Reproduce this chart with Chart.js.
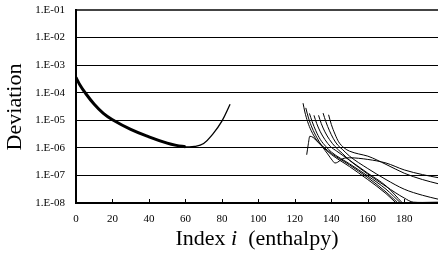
<!DOCTYPE html>
<html>
<head>
<meta charset="utf-8">
<script src="https://cdn.jsdelivr.net/npm/chart.js@4"></script>
<style>
  html, body { margin: 0; padding: 0; background: #fff; }
  #wrap { width: 438px; height: 254px; position: relative; }
</style>
</head>
<body>
<div id="wrap"><canvas id="chart-dev"></canvas></div>
<script>
'use strict';

/* ─── data (deviation stored as log10 exponent) ─── */
var xTicks = [0, 20, 40, 60, 80, 100, 120, 140, 160, 180];
var yTicks = [1e-8, 1e-7, 1e-6, 1e-5, 1e-4, 1e-3, 1e-2, 1e-1];

// left curve (several overlapping runs, thick part up to i=60)
var idxLeft = [0, 2, 5, 10, 15, 20, 30, 40, 50, 55, 60, 65, 70, 75, 80, 84.5];
var expLeft = [-3.45, -3.7, -4.0, -4.42, -4.75, -4.98, -5.33, -5.6, -5.83, -5.91, -5.96, -5.95, -5.84, -5.5, -5.03, -4.42];
var thickCount = 11;

// right group
var idxA = [124.5, 125.5, 127, 129, 132, 136, 140, 150, 160, 170, 176.5];
var expA = [-4.38, -4.7, -5.05, -5.38, -5.72, -5.98, -6.2, -6.62, -7.08, -7.6, -8.0];

var idxB = [126, 127.5, 129.5, 132, 135, 138, 140.5, 142, 143.5, 146, 150, 160, 170, 180, 190, 198.5];
var expB = [-4.55, -4.92, -5.28, -5.62, -5.95, -6.22, -6.45, -6.55, -6.52, -6.4, -6.36, -6.42, -6.55, -6.8, -6.97, -7.08];

var idxC = [128, 129.5, 131.5, 134, 137, 140, 150, 160, 170, 178];
var expC = [-4.75, -5.05, -5.38, -5.7, -5.95, -6.15, -6.58, -7.02, -7.5, -8.0];

var idxD = [130.5, 132, 134, 136.5, 139.5, 143, 150, 160, 170, 179];
var expD = [-4.82, -5.12, -5.42, -5.7, -5.95, -6.12, -6.45, -6.92, -7.38, -8.0];

var idxE = [133, 134.5, 136.5, 139, 142, 146, 150, 160, 170, 180, 185, 190, 198.5];
var expE = [-4.82, -5.12, -5.42, -5.7, -5.95, -6.2, -6.45, -6.95, -7.4, -7.82, -7.97, -7.98, -7.97];

var idxF = [135.5, 137, 139, 141, 143.5, 146, 150, 160, 170, 180, 190, 198.5];
var expF = [-4.74, -5.05, -5.38, -5.65, -5.9, -6.05, -6.3, -6.75, -7.15, -7.5, -7.72, -7.86];

var idxG = [138.5, 140, 142, 144, 147, 150, 155, 160, 170, 180, 190, 198.5];
var expG = [-4.8, -5.15, -5.5, -5.78, -6.0, -6.12, -6.22, -6.3, -6.6, -6.92, -7.15, -7.3];

var idxSpike = [126.5, 127.3, 128.2, 130, 132, 135, 140, 150, 160, 170, 175.5];
var expSpike = [-6.25, -5.9, -5.58, -5.62, -5.75, -5.95, -6.24, -6.68, -7.15, -7.66, -8.0];

var SERIF = '"Liberation Serif", "Times New Roman", serif';

/* ─── helpers ─── */
function toPoints(idx, exps) {
  var pts = [];
  for (var i = 0; i < idx.length; i++) {
    pts.push({ x: idx[i], y: Math.pow(10, exps[i]) });
  }
  return pts;
}

function lineSet(idx, exps, width, smooth) {
  var ds = {
    data: toPoints(idx, exps),
    borderColor: '#000',
    borderWidth: width,
    pointRadius: 0,
    fill: false
  };
  if (smooth) ds.tension = 0.4;
  else ds.cubicInterpolationMode = 'monotone';
  return ds;
}

/* ─── titles + inward x ticks ─── */
var decorPlugin = {
  id: 'decor',
  afterDraw: function (chart) {
    var ctx = chart.ctx;
    var area = chart.chartArea;
    var xs = chart.scales.x;

    ctx.save();
    ctx.strokeStyle = '#000';
    ctx.lineWidth = 1;
    for (var k = 1; k < xTicks.length; k++) {
      var px = Math.round(xs.getPixelForValue(xTicks[k])) + 0.5;
      ctx.beginPath();
      ctx.moveTo(px, area.bottom);
      ctx.lineTo(px, area.bottom - 4);
      ctx.stroke();
    }

    // y title
    ctx.fillStyle = '#000';
    ctx.font = '22px ' + SERIF;
    ctx.textAlign = 'center';
    ctx.textBaseline = 'middle';
    ctx.translate(15, 107);
    ctx.rotate(-Math.PI / 2);
    ctx.fillText('Deviation', 0, 0);
    ctx.setTransform(1, 0, 0, 1, 0, 0);

    // x title with italic i
    var p1 = 'Index ', p2 = 'i', p3 = '  (enthalpy)';
    var fN = '22px ' + SERIF, fI = 'italic 22px ' + SERIF;
    ctx.textAlign = 'left';
    ctx.textBaseline = 'alphabetic';
    ctx.font = fN;
    var w1 = ctx.measureText(p1).width, w3 = ctx.measureText(p3).width;
    ctx.font = fI;
    var w2 = ctx.measureText(p2).width;
    var x0 = 257 - (w1 + w2 + w3) / 2;
    var base = 245;
    ctx.font = fN; ctx.fillText(p1, x0, base);
    ctx.font = fI; ctx.fillText(p2, x0 + w1, base);
    ctx.font = fN; ctx.fillText(p3, x0 + w1 + w2, base);
    ctx.restore();
  }
};

/* ─── chart ─── */
var datasets = [
  lineSet(idxLeft.slice(0, thickCount), expLeft.slice(0, thickCount), 3, true),
  lineSet(idxLeft, expLeft, 1.3, true),
  lineSet(idxA, expA, 1),
  lineSet(idxB, expB, 1),
  lineSet(idxC, expC, 1),
  lineSet(idxD, expD, 1),
  lineSet(idxE, expE, 1),
  lineSet(idxF, expF, 1),
  lineSet(idxG, expG, 1),
  lineSet(idxSpike, expSpike, 1)
];

new Chart(document.getElementById('chart-dev'), {
  type: 'line',
  data: { datasets: datasets },
  options: {
    responsive: true,
    maintainAspectRatio: false,
    animation: false,
    layout: { padding: { top: 10, right: 0, left: 0, bottom: 0 } },
    plugins: { legend: { display: false }, tooltip: { enabled: false } },
    scales: {
      x: {
        type: 'linear',
        min: 0,
        max: 198.5,
        afterBuildTicks: function (scale) {
          scale.ticks = xTicks.map(function (v) { return { value: v }; });
        },
        afterFit: function (scale) {
          scale.height = 51;
          scale.paddingLeft = 0;
          scale.paddingRight = 0;
        },
        grid: { display: false, drawTicks: false },
        border: { display: true, color: '#000', width: 2 },
        ticks: {
          padding: 10,
          color: '#000',
          maxRotation: 0,
          font: { family: SERIF, size: 11 }
        }
      },
      y: {
        type: 'logarithmic',
        min: 1e-8,
        max: 1e-1,
        afterBuildTicks: function (scale) {
          scale.ticks = yTicks.map(function (v) { return { value: v }; });
        },
        afterFit: function (scale) {
          scale.width = 76;
          scale.paddingTop = 0;
          scale.paddingBottom = 0;
        },
        grid: {
          color: function (c) { return c.index === yTicks.length - 1 ? '#444' : '#000'; },
          lineWidth: function (c) { return c.index === yTicks.length - 1 ? 2 : 1; },
          drawTicks: false
        },
        border: { display: true, color: '#000', width: 2 },
        ticks: {
          padding: 11,
          color: '#000',
          font: { family: SERIF, size: 11 },
          callback: function (v) {
            var n = Math.round(-Math.log10(v));
            return '1.E-' + (n < 10 ? '0' : '') + n;
          }
        }
      }
    }
  },
  plugins: [decorPlugin]
});
</script>
</body>
</html>
